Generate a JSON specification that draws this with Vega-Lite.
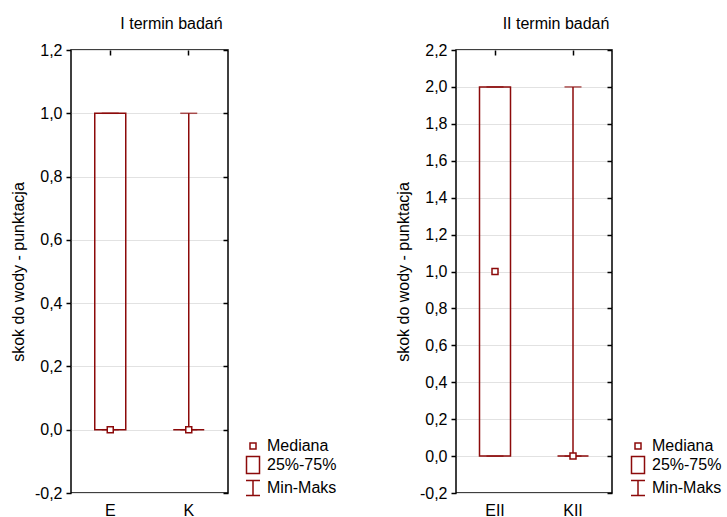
{
  "$schema": "https://vega.github.io/schema/vega-lite/v6.json",
  "padding": {"left": 9, "top": 15, "right": 0, "bottom": 0},
  "background": "white",
  "config": {
    "locale": {"number": {"decimal": ",", "thousands": ".", "grouping": [3], "currency": ["", " zł"], "minus": "-"}},
    "font": "Liberation Sans",
    "view": {"stroke": "black", "strokeWidth": 1.5},
    "axis": {"labelFont": "Liberation Sans", "labelFontSize": 16, "labelColor": "black", "titleFont": "Liberation Sans", "titleFontWeight": "normal", "titleFontSize": 16, "titleColor": "black", "domain": false, "tickColor": "black", "tickWidth": 1.5, "gridColor": "#e2e2e2", "gridWidth": 1.2},
    "title": {"font": "Liberation Sans", "fontSize": 16, "fontWeight": "normal", "color": "black"},
    "legend": {"labelFont": "Liberation Sans", "labelFontSize": 16, "labelColor": "black"}
  },
  "datasets": {
    "left": [
      {"grp": "E", "min": 0, "q1": 0, "med": 0, "q3": 1, "max": 1},
      {"grp": "K", "min": 0, "q1": 0, "med": 0, "q3": 0, "max": 1}
    ],
    "right": [
      {"grp": "EII", "min": 0, "q1": 0, "med": 1, "q3": 2, "max": 2},
      {"grp": "KII", "min": 0, "q1": 0, "med": 0, "q3": 0, "max": 2}
    ]
  },
  "spacing": 228,
  "bounds": "flush",
  "resolve": {"scale": {"shape": "independent"}, "legend": {"shape": "independent"}},
  "hconcat": [
    {
      "width": 157, "height": 443,
      "title": {"text": "I termin badań", "dx": 22, "offset": 10},
      "data": {"name": "left"},
      "resolve": {"axis": {"x": "independent", "y": "independent"}},
      "layer": [
        {
          "mark": {"type": "bar", "size": 31, "fill": "transparent", "stroke": "#8c0a0a", "strokeWidth": 1.5},
          "encoding": {
            "x": {"field": "grp", "type": "nominal", "sort": null, "scale": {"paddingInner": 0, "paddingOuter": 0}, "axis": {"orient": "bottom", "title": null, "labelAngle": 0, "tickSize": 0, "labelPadding": 9}},
            "y": {"field": "q1", "type": "quantitative", "scale": {"domain": [-0.2, 1.2], "nice": false, "zero": false}, "axis": {"orient": "left", "title": "skok do wody - punktacja", "format": ".1f", "values": [-0.2, 0, 0.2, 0.4, 0.6, 0.8, 1.0, 1.2], "grid": true, "tickSize": 5, "labelPadding": 4, "titlePadding": 8}},
            "y2": {"field": "q3"}
          }
        },
        {
          "mark": {"type": "rule", "stroke": "#8c0a0a", "strokeWidth": 1.5},
          "encoding": {
            "x": {"field": "grp", "type": "nominal", "sort": null, "axis": {"orient": "top", "title": null, "labels": false, "tickSize": -5}},
            "y": {"field": "q3", "type": "quantitative", "axis": {"orient": "right", "title": null, "labels": false, "grid": false, "tickSize": -5, "values": [-0.2, 0, 0.2, 0.4, 0.6, 0.8, 1.0, 1.2]}},
            "y2": {"field": "max"}
          }
        },
        {
          "mark": {"type": "rule", "stroke": "#8c0a0a", "strokeWidth": 1.5},
          "encoding": {
            "x": {"field": "grp", "type": "nominal", "sort": null, "axis": null},
            "y": {"field": "min", "type": "quantitative", "axis": null},
            "y2": {"field": "q1"}
          }
        },
        {
          "mark": {"type": "tick", "size": 17, "thickness": 1.5, "color": "#8c0a0a"},
          "encoding": {
            "x": {"field": "grp", "type": "nominal", "sort": null, "axis": null},
            "y": {"field": "max", "type": "quantitative", "axis": null}
          }
        },
        {
          "mark": {"type": "tick", "size": 17, "thickness": 1.5, "color": "#8c0a0a"},
          "encoding": {
            "x": {"field": "grp", "type": "nominal", "sort": null, "axis": null},
            "y": {"field": "min", "type": "quantitative", "axis": null}
          }
        },
        {
          "mark": {"type": "point", "filled": false, "color": "#8c0a0a", "fill": "white", "strokeWidth": 1.5, "opacity": 1, "size": 400},
          "encoding": {
            "x": {"field": "grp", "type": "nominal", "sort": null, "axis": null},
            "y": {"field": "med", "type": "quantitative", "axis": null},
            "shape": {"datum": "Mediana", "scale": {"domain": ["Mediana", "25%-75%", "Min-Maks"], "range": ["M-0.3,-0.3L0.3,-0.3L0.3,0.3L-0.3,0.3Z", "M-0.65,-0.85L0.65,-0.85L0.65,0.85L-0.65,0.85Z", "M-0.7,-0.75L0.7,-0.75M0,-0.75L0,0.75M-0.7,0.75L0.7,0.75"]}, "legend": {"orient": "none", "legendX": 171, "legendY": 385, "title": null, "symbolSize": 400, "labelOffset": 3, "rowPadding": -2.5}}
          }
        }
      ]
    },
    {
      "width": 156, "height": 443,
      "title": {"text": "II termin badań", "dx": 22, "offset": 10},
      "data": {"name": "right"},
      "resolve": {"axis": {"x": "independent", "y": "independent"}},
      "layer": [
        {
          "mark": {"type": "bar", "size": 31, "fill": "transparent", "stroke": "#8c0a0a", "strokeWidth": 1.5},
          "encoding": {
            "x": {"field": "grp", "type": "nominal", "sort": null, "scale": {"paddingInner": 0, "paddingOuter": 0}, "axis": {"orient": "bottom", "title": null, "labelAngle": 0, "tickSize": 0, "labelPadding": 9}},
            "y": {"field": "q1", "type": "quantitative", "scale": {"domain": [-0.2, 2.2], "nice": false, "zero": false}, "axis": {"orient": "left", "title": "skok do wody - punktacja", "format": ".1f", "values": [-0.2, 0, 0.2, 0.4, 0.6, 0.8, 1.0, 1.2, 1.4, 1.6, 1.8, 2.0, 2.2], "grid": true, "tickSize": 5, "labelPadding": 4, "titlePadding": 8}},
            "y2": {"field": "q3"}
          }
        },
        {
          "mark": {"type": "rule", "stroke": "#8c0a0a", "strokeWidth": 1.5},
          "encoding": {
            "x": {"field": "grp", "type": "nominal", "sort": null, "axis": {"orient": "top", "title": null, "labels": false, "tickSize": -5}},
            "y": {"field": "q3", "type": "quantitative", "axis": {"orient": "right", "title": null, "labels": false, "grid": false, "tickSize": -5, "values": [-0.2, 0, 0.2, 0.4, 0.6, 0.8, 1.0, 1.2, 1.4, 1.6, 1.8, 2.0, 2.2]}},
            "y2": {"field": "max"}
          }
        },
        {
          "mark": {"type": "rule", "stroke": "#8c0a0a", "strokeWidth": 1.5},
          "encoding": {
            "x": {"field": "grp", "type": "nominal", "sort": null, "axis": null},
            "y": {"field": "min", "type": "quantitative", "axis": null},
            "y2": {"field": "q1"}
          }
        },
        {
          "mark": {"type": "tick", "size": 17, "thickness": 1.5, "color": "#8c0a0a"},
          "encoding": {
            "x": {"field": "grp", "type": "nominal", "sort": null, "axis": null},
            "y": {"field": "max", "type": "quantitative", "axis": null}
          }
        },
        {
          "mark": {"type": "tick", "size": 17, "thickness": 1.5, "color": "#8c0a0a"},
          "encoding": {
            "x": {"field": "grp", "type": "nominal", "sort": null, "axis": null},
            "y": {"field": "min", "type": "quantitative", "axis": null}
          }
        },
        {
          "mark": {"type": "point", "filled": false, "color": "#8c0a0a", "fill": "white", "strokeWidth": 1.5, "opacity": 1, "size": 400},
          "encoding": {
            "x": {"field": "grp", "type": "nominal", "sort": null, "axis": null},
            "y": {"field": "med", "type": "quantitative", "axis": null},
            "shape": {"datum": "Mediana", "scale": {"domain": ["Mediana", "25%-75%", "Min-Maks"], "range": ["M-0.3,-0.3L0.3,-0.3L0.3,0.3L-0.3,0.3Z", "M-0.65,-0.85L0.65,-0.85L0.65,0.85L-0.65,0.85Z", "M-0.7,-0.75L0.7,-0.75M0,-0.75L0,0.75M-0.7,0.75L0.7,0.75"]}, "legend": {"orient": "none", "legendX": 171, "legendY": 385, "title": null, "symbolSize": 400, "labelOffset": 3, "rowPadding": -2.5}}
          }
        }
      ]
    }
  ]
}
